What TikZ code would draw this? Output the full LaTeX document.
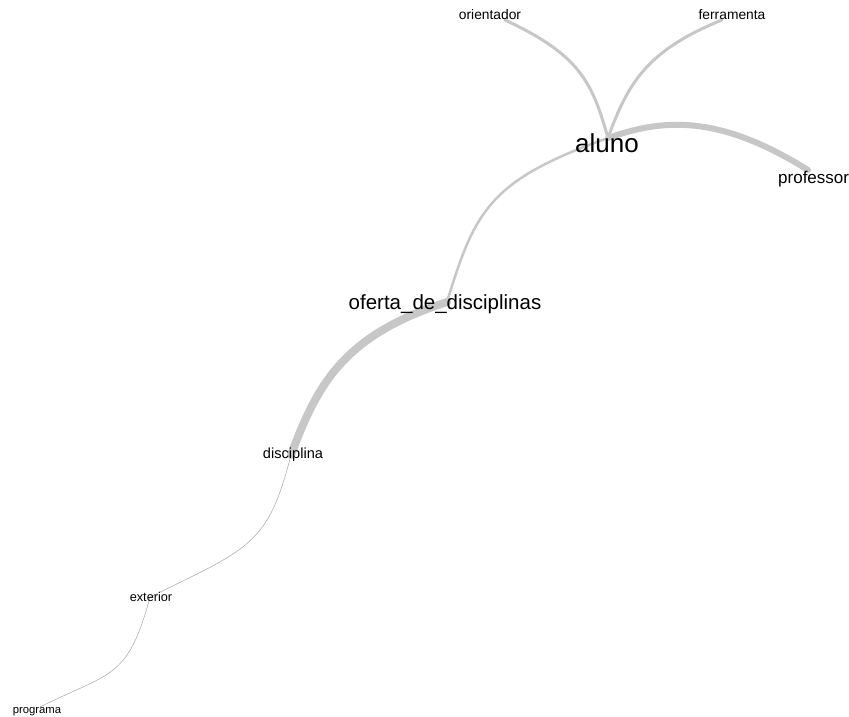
\documentclass[tikz,border=0pt]{standalone}
\usepackage{fontspec}
\setmainfont{Liberation Sans}
\usetikzlibrary{positioning}

\begin{document}
\begin{tikzpicture}[
    x=1pt, y=-1pt,
    lbl/.style={inner sep=0pt, text=black},
    edge/.style={draw=black!22, line cap=round},
    thinedge/.style={draw=black!35, line width=0.5pt}
]
\useasboundingbox[fill=white] (0,0) rectangle (849,717);

% Vertices
\coordinate (orientador) at (505,20);
\coordinate (ferramenta) at (722,20);
\coordinate (aluno) at (608,138);
\coordinate (professor) at (808,170);
\coordinate (oferta) at (447,302);
\coordinate (disciplina) at (291,455);
\coordinate (exterior) at (150,597);
\coordinate (programa) at (40,707);

% Edges
\draw[edge, line width=6pt] (aluno) .. controls (660,120) and (715,112) .. (professor);
\draw[edge, line width=3pt] (orientador) .. controls (580,55) and (592,82) .. (aluno);
\draw[edge, line width=3pt] (ferramenta) .. controls (648,50) and (628,82) .. (aluno);
\draw[edge, line width=2.5pt] (oferta) .. controls (475,210) and (490,180) .. (aluno);
\draw[edge, line width=8pt] (oferta) .. controls (345,335) and (318,382) .. (disciplina);
\draw[thinedge] (disciplina) .. controls (268,545) and (250,548) .. (exterior);
\draw[thinedge] (exterior) .. controls (128,680) and (110,672) .. (programa);

% Labels
\node[lbl, font=\fontsize{13.8}{14}\selectfont] (orientador-lbl) at (490,15) {orientador};
\node[lbl, font=\fontsize{13.8}{14}\selectfont] (ferramenta-lbl) at (732,15) {ferramenta};
\node[lbl, font=\fontsize{26}{28}\selectfont] (aluno-lbl) at (607,143) {aluno};
\node[lbl, font=\fontsize{17}{18}\selectfont, anchor=west] (professor-lbl) at (778,179) {professor};
\node[lbl, font=\fontsize{20.5}{22}\selectfont] (oferta-lbl) at (445,304) {oferta\_de\_disciplinas};
\node[lbl, font=\fontsize{14.6}{16}\selectfont] (disciplina-lbl) at (293,455) {disciplina};
\node[lbl, font=\fontsize{12.7}{14}\selectfont] (exterior-lbl) at (151,597) {exterior};
\node[lbl, font=\fontsize{11.3}{13}\selectfont] (programa-lbl) at (37,712) {programa};
\end{tikzpicture}
\end{document}
